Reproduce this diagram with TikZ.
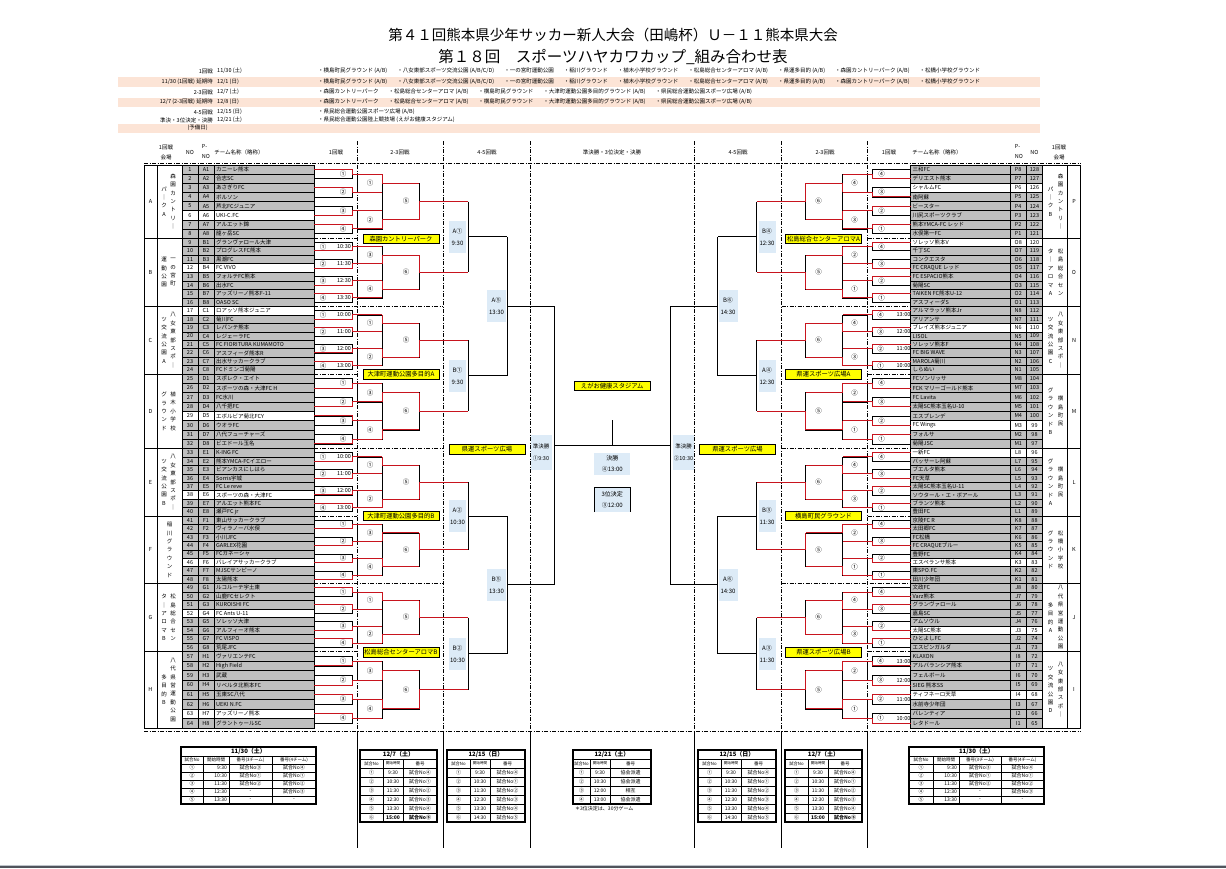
\documentclass[tikz,border=0pt]{standalone}
\usepackage{fontspec}
\setmainfont{Noto Sans CJK JP}
\definecolor{peach}{RGB}{252,228,214}
\definecolor{cgray}{RGB}{191,191,191}
\definecolor{lblue}{RGB}{221,235,247}
\definecolor{wred}{RGB}{200,20,30}
\definecolor{ylw}{RGB}{255,255,0}
\definecolor{barc}{RGB}{80,84,92}
\definecolor{barl}{RGB}{190,196,202}
\newcommand\cnum[1]{\ifcase#1\or ①\or ②\or ③\or ④\or ⑤\or ⑥\fi}
\newcommand\fs[1]{\fontsize{#1}{#1}\selectfont}
\newcommand\vst[1]{\ifx\relax#1\else\hbox to 7pt{\hss#1\hss}\expandafter\vst\fi}
\newcommand\vtxt[1]{\vbox{\baselineskip=8.4pt\lineskiplimit=-20pt\expandafter\vst#1\relax}}
\newcommand\gp{\hspace{10pt}}
\newcommand\bd[1]{\ifcase#1 165\or 238\or 306.5\or 374\or 448.5\or 516\or 583.5\or 651.5\or 728\fi}
\newcommand\grp[1]{%
  \edef\gtop{\bd{#1}}%
  \pgfmathtruncatemacro\gn{#1+1}%
  \edef\gbot{\bd{\gn}}%
  \pgfmathsetmacro\hh{(\gbot-\gtop)/8}%
}
\tikzset{
  txt/.style={inner sep=0pt,font=\fs{5.5}},
  tb/.style={inner sep=0pt,font=\fs{5}},
  hdr/.style={inner sep=0pt,align=center,font=\fontsize{5.5}{10}\selectfont},
  cnl/.style={inner sep=0pt,font=\fs{6.5}},
  cell/.style={draw=black,line width=0.5pt},
  gline/.style={draw=black,line width=0.9pt},
  mbox/.style={draw=black,line width=0.7pt},
  win/.style={draw=wred,line width=0.9pt},
  bline/.style={draw=black,line width=0.8pt},
  sep/.style={draw=black,line width=0.7pt,dash pattern=on 4pt off 1.5pt on 1pt off 1.5pt},
  ylab/.style={fill=ylw,draw=black,line width=0.9pt,inner sep=0.5pt,minimum width=76,minimum height=9.5,font=\fs{6.3}},
  blab/.style={fill=lblue,inner sep=0pt,align=center,font=\fontsize{6}{12}\selectfont},
}
\newcommand\pickw[3]{\ifnum#1=1 \let\yw#3\else\let\yw#2\fi}
\newcommand\brside[2]{%
\foreach \gg/\wA/\wB/\wC/\wD/\sA/\sB/\sC/\tF in {#2}{%
  \grp{\gg}%
  \foreach \mm/\wv in {0/\wA,1/\wB,2/\wC,3/\wD}{%
    \pgfmathsetmacro\ya{\gtop+(2*\mm+0.5)*\hh}%
    \pgfmathsetmacro\yb{\gtop+(2*\mm+1.5)*\hh}%
    \pgfmathsetmacro\ym{\gtop+(2*\mm+1)*\hh}%
    \pickw{\wv}{\ya}{\yb}%
    \ifnum#1=0 \pgfmathtruncatemacro\cnv{\mm+1}\else\pgfmathtruncatemacro\cnv{4-\mm}\fi
    \draw[mbox] (314,\ya) rectangle (352,\yb);
    \draw[win] (314,\yw) -- (352,\yw) -- (352,\ym) -- (357,\ym);
    \ifnum\tF=0
      \node[cnl] (r#1c\gg-\mm) at (343,\ym) {\cnum{\cnv}};
    \else
      \ifnum#1=0 \def\cxv{323}\def\txv{344}\else\def\cxv{344}\def\txv{321}\fi
      \node[cnl] (r#1c\gg-\mm) at (\cxv,\ym) {\cnum{\cnv}};
      \node[txt] (r#1t\gg-\mm) at (\txv,\ym) {\ifcase\tF\or 1\mm:30\or 1\mm:00\or 1\the\numexpr3-\mm\relax:00\fi};
    \fi
  }%
  \pgfmathsetmacro\ya{\gtop+2*\hh}%
  \pgfmathsetmacro\yb{\gtop+6*\hh}%
  \draw[mbox] (382,\ya) rectangle (419,\yb);
  \foreach \pp/\wv in {0/\sA,1/\sB}{%
    \pgfmathsetmacro\ya{\gtop+(4*\pp+1)*\hh}%
    \pgfmathsetmacro\yb{\gtop+(4*\pp+3)*\hh}%
    \pgfmathsetmacro\ym{\gtop+(4*\pp+2)*\hh}%
    \pickw{\wv}{\ya}{\yb}%
    \ifodd\gg \def\oddv{2}\else\def\oddv{0}\fi
    \ifnum#1=0 \pgfmathtruncatemacro\cnv{1+\pp+\oddv}\else\pgfmathtruncatemacro\cnv{4-\pp-\oddv}\fi
    \draw[mbox] (357,\ya) rectangle (382,\yb);
    \draw[win] (357,\ya) -- (382,\ya);
    \draw[win] (357,\yb) -- (382,\yb);
    \draw[win] (382,\yw) -- (382,\ym);
    \node[cnl] (r#1s\gg-\pp) at (370,\ym) {\cnum{\cnv}};
  }%
  \pgfmathsetmacro\ya{\gtop+2*\hh}%
  \pgfmathsetmacro\yb{\gtop+6*\hh}%
  \pgfmathsetmacro\ym{\gtop+4*\hh}%
  \pickw{\sC}{\ya}{\yb}%
  \ifodd\gg \def\oddv{1}\else\def\oddv{0}\fi
  \ifnum#1=0 \pgfmathtruncatemacro\cnv{5+\oddv}\else\pgfmathtruncatemacro\cnv{6-\oddv}\fi
  \draw[win] (382,\ya) -- (419,\ya);
  \draw[win] (382,\yb) -- (419,\yb);
  \draw[win] (419,\yw) -- (419,\ym) -- (468,\ym);
  \node[cnl] (r#1f\gg) at (406,\ym) {\cnum{\cnv}};
}%
\foreach \ya/\yb/\ym in {201.5/272.25/236.875,340.25/411.25/375.75,482.25/549.75/516,617.5/689.75/653.625}{%
  \draw[bline] (468,\ya) -- (468,\yb) (468,\ym) -- (507,\ym);
}%
\draw[bline] (507,236.875) -- (507,375.75) (507,306.31) -- (554,306.31);
\draw[bline] (507,516) -- (507,653.625) (507,584.81) -- (554,584.81);
\draw[bline] (554,306.31) -- (554,584.81) (554,445.56) -- (612.25,445.56);
}
\newcommand\tabsix[8]{%
  \draw[line width=0.4pt] (#2,759) -- (#5,759) (#2,768) -- (#5,768);
  \foreach \kk in {1,...,5}{\draw[line width=0.4pt] (#2,768+9*\kk) -- (#5,768+9*\kk);}
  \draw[line width=0.4pt] (#3,759) -- (#3,822) (#4,759) -- (#4,822);
  \draw[line width=1.1pt] (#2,750) rectangle (#5,822);
  \node[tb,font=\fs{6}\bfseries] (#1h) at ({(#2+#5)/2},754.5) {#6};
  \node[tb,font=\fs{4.3}] (#1ha) at ({(#2+#3)/2},763.5) {試合No};
  \node[tb,font=\fs{3.6}] (#1hb) at ({(#3+#4)/2},763.5) {開始時間};
  \node[tb,font=\fs{4.5}] (#1hc) at ({(#4+#5)/2},763.5) {番号};
  \foreach \kk/\tm/\nb in {1/9:30/4,2/10:30/1,3/11:30/2,4/12:30/3,5/13:30/4,6/#7/5}{%
    \pgfmathsetmacro\yy{763.5+9*\kk}%
    \ifnum\kk=6 \ifnum#8=1 \def\bb{\bfseries}\else\def\bb{}\fi\else\def\bb{}\fi
    \node[tb] (#1a\kk) at ({(#2+#3)/2},\yy) {\cnum{\kk}};
    \node[tb] (#1b\kk) at ({(#3+#4)/2},\yy) {\bb\tm};
    \node[tb] (#1c\kk) at ({(#4+#5)/2},\yy) {\bb 試合No\cnum{\nb}};
  }%
}
\newcommand\tabfive[6]{%
  \draw[line width=0.4pt] (#2,756) -- (#6,756) (#2,764) -- (#6,764);
  \foreach \kk in {1,...,4}{\draw[line width=0.4pt] (#2,764+8*\kk) -- (#6,764+8*\kk);}
  \draw[line width=0.4pt] (#3,756) -- (#3,804) (#4,756) -- (#4,804) (#5,756) -- (#5,804);
  \draw[line width=1.1pt] (#2,747) rectangle (#6,804);
  \node[tb,font=\fs{6}\bfseries] (#1h) at ({(#2+#6)/2},751.5) {11/30（土）};
  \node[tb,font=\fs{4.5}] (#1ha) at ({(#2+#3)/2},760) {試合No};
  \node[tb,font=\fs{4.5}] (#1hb) at ({(#3+#4)/2},760) {開始時間};
  \node[tb,font=\fs{4.5}] (#1hc) at ({(#4+#5)/2},760) {番号(3チーム)};
  \node[tb,font=\fs{4.5}] (#1hd) at ({(#5+#6)/2},760) {番号(4チーム)};
  \foreach \kk/\tm/\nA/\nB in {1/9:30/3/4,2/10:30/1/1,3/11:30/2/2,4/12:30/0/3,5/13:30/0/0}{%
    \pgfmathsetmacro\yy{760+8*\kk}%
    \node[tb] (#1a\kk) at ({(#2+#3)/2},\yy) {\cnum{\kk}};
    \node[tb,anchor=east] (#1b\kk) at (#4-2,\yy) {\tm};
    \node[tb] (#1c\kk) at ({(#4+#5)/2},\yy) {\ifnum\nA=0 -\else 試合No\cnum{\nA}\fi};
    \node[tb] (#1d\kk) at ({(#5+#6)/2},\yy) {\ifnum\nB=0 -\else 試合No\cnum{\nB}\fi};
  }%
}
\newcommand\vA{・横島町民グラウンド (A/B)\gp ・八女東部スポーツ交流公園 (A/B/C/D)\gp ・一の宮町運動公園\gp ・稲川グラウンド\gp ・植木小学校グラウンド\gp ・松島総合センターアロマ (A/B)\gp ・県運多目的 (A/B)\gp ・森園カントリーパーク (A/B)\gp ・松橋小学校グラウンド}
\newcommand\vB{・森園カントリーパーク\gp ・松島総合センターアロマ (A/B)\gp ・横島町民グラウンド\gp ・大津町運動公園多目的グラウンド (A/B)\gp ・県民総合運動公園スポーツ広場 (A/B)}
\begin{document}
\begin{tikzpicture}[x=1pt,y=-1pt]
\useasboundingbox (0,0) rectangle (1226,868);
\fill[white] (0,0) rectangle (1226,868);
\fill[barl] (0,865) rectangle (1226,866);
\fill[barc] (0,866) rectangle (1226,868);
\node[inner sep=0pt,font=\fs{14.5}] (title1) at (613,35) {第４１回熊本県少年サッカー新人大会（田嶋杯）Ｕ－１１熊本県大会};
\node[inner sep=0pt,font=\fs{15.5}] (title2) at (613,57) {第１８回　スポーツハヤカワカップ\_組み合わせ表};
\fill[peach] (118,77) rectangle (1040,87);
\fill[peach] (118,97.5) rectangle (1040,107);
\fill[peach] (118,123.5) rectangle (1040,133);
\node[txt,anchor=east] (sl1) at (213,71) {1回戦};
\node[txt,anchor=west] (sd1) at (217,71) {11/30 (土)};
\node[txt,anchor=west] (sv1) at (318,71) {\vA};
\node[txt,anchor=east] (sl2) at (213,82) {11/30 (1回戦) 延期時};
\node[txt,anchor=west] (sd2) at (217,82) {12/1 (日)};
\node[txt,anchor=west] (sv2) at (318,82) {\vA};
\node[txt,anchor=east] (sl3) at (213,92) {2-3回戦};
\node[txt,anchor=west] (sd3) at (217,92) {12/7 (土)};
\node[txt,anchor=west] (sv3) at (318,92) {\vB};
\node[txt,anchor=east] (sl4) at (213,102) {12/7 (2-3回戦) 延期時};
\node[txt,anchor=west] (sd4) at (217,102) {12/8 (日)};
\node[txt,anchor=west] (sv4) at (318,102) {\vB};
\node[txt,anchor=east] (sl5) at (213,112) {4-5回戦};
\node[txt,anchor=west] (sd5) at (217,112) {12/15 (日)};
\node[txt,anchor=west] (sv5) at (318,112) {・県民総合運動公園スポーツ広場 (A/B)};
\node[txt,anchor=east] (sl6) at (213,120) {準決・3位決定・決勝};
\node[txt,anchor=west] (sd6) at (217,120) {12/21 (土)};
\node[txt,anchor=west] (sv6) at (318,120) {・県民総合運動公園陸上競技場 (えがお健康スタジアム)};
\node[txt,anchor=east] (sl7) at (208,128) {(予備日)};
\node[hdr] (h1) at (166,152) {1回戦\\会場};
\node[hdr] (h2) at (190,152) {NO};
\node[hdr,align=left] (h3) at (206,152) {P-\\NO};
\node[hdr] (h4) at (239,152) {チーム名称（略称）};
\node[hdr] (h5) at (336,152) {1回戦};
\node[hdr] (h6) at (400,152) {2-3回戦};
\node[hdr] (h7) at (487,152) {4-5回戦};
\node[hdr] (h8) at (612,152) {準決勝・3位決定・決勝};
\node[hdr] (h9) at (738,152) {4-5回戦};
\node[hdr] (h10) at (825,152) {2-3回戦};
\node[hdr] (h11) at (889,152) {1回戦};
\node[hdr] (h12) at (937,152) {チーム名称（略称）};
\node[hdr,align=left] (h13) at (1019,152) {P-\\NO};
\node[hdr] (h14) at (1034.5,152) {NO};
\node[hdr] (h15) at (1059,152) {1回戦\\会場};
\draw[sep] (144,163) -- (1081,163);
\draw[sep] (144,731) -- (1081,731);
\foreach \x in {357,443,530,694.5,781.5,867.5}{
  \draw[sep] (\x,141) -- (\x,731);
  \draw[bline] (\x,731) -- (\x,848);
}
\foreach \bY/\eX in {238/357,306.5/443,374/357,448.5/443,516/357,583.5/443,651.5/357}{
  \draw[sep] (314,\bY) -- (\eX,\bY);
  \draw[sep] (1224.5-\eX,\bY) -- (910.5,\bY);
}
\foreach \no/\pn/\nm/\wh [count=\i from 0] in {1/A1/カニーレ熊本/0,2/A2/合志SC/0,3/A3/あさぎりFC/0,4/A4/ボルソン/0,5/A5/芦北FCジュニア/0,6/A6/UKI-C.FC/1,7/A7/アルエット錦/0,8/A8/龍ヶ岳SC/0,
9/B1/グランヴァロール大津/0,10/B2/プログレスFC熊本/0,11/B3/黒潮FC/0,12/B4/FC VIVO/1,13/B5/フォルテFC熊本/0,14/B6/出水FC/0,15/B7/アッズリーノ熊本F-11/0,16/B8/OASO SC/0,
17/C1/ロアッソ熊本ジュニア/1,18/C2/菊川FC/0,19/C3/レパンテ熊本/0,20/C4/レジェーラFC/0,21/C5/FC FIORITURA KUMAMOTO/0,22/C6/アスフィーダ熊本R/0,23/C7/出水サッカークラブ/0,24/C8/FCドミンゴ菊陽/0,
25/D1/スポレク・エイト/0,26/D2/スポーツの森・大津FC H/0,27/D3/FC氷川/0,28/D4/八千把FC/0,29/D5/エボルビア菊北FCY/1,30/D6/ウオラFC/0,31/D7/八代フューチャーズ/0,32/D8/ビエドール玉名/0,
33/E1/K-ING FC/0,34/E2/熊本YMCA-FCイエロー/0,35/E3/ビアンカスにしはら/0,36/E4/Sorris宇城/0,37/E5/FC Le reve/0,38/E6/スポーツの森・大津FC/1,39/E7/アルエット熊本FC/0,40/E8/瀬戸FC jr/0,
41/F1/東山サッカークラブ/0,42/F2/ヴィラノーバ水俣/0,43/F3/小川JFC/0,44/F4/GARLEX花園/0,45/F5/FCガネーシャ/0,46/F6/バレイアサッカークラブ/1,47/F7/MJSCサンピーノ/0,48/F8/太陽熊本/0,
49/G1/ルコルーテ宇土東/0,50/G2/山鹿FCセレクト/0,51/G3/KUROISHI FC/0,52/G4/FC Ants U-11/1,53/G5/ソレッソ大津/0,54/G6/アルフィーオ熊本/0,55/G7/FC VISPO/0,56/G8/荒尾JFC/0,
57/H1/ヴァリエンテFC/0,58/H2/High Field/0,59/H3/武蔵/0,60/H4/リベルタ北熊本FC/0,61/H5/玉東SC八代/0,62/H6/UEKI N.FC/0,63/H7/アッズリーノ熊本/1,64/H8/グラントゥールSC/0}{
  \pgfmathtruncatemacro\gg{int(\i/8)}
  \pgfmathtruncatemacro\kk{\i-8*\gg}
  \grp{\gg}
  \pgfmathsetmacro\ya{\gtop+\kk*\hh}
  \pgfmathsetmacro\yb{\ya+\hh}
  \pgfmathsetmacro\ym{\ya+\hh/2}
  \ifnum\wh=1 \def\fc{white}\else\def\fc{cgray}\fi
  \draw[cell,fill=\fc] (182,\ya) rectangle (198,\yb);
  \draw[cell,fill=\fc] (198,\ya) rectangle (214,\yb);
  \draw[cell,fill=\fc] (214,\ya) rectangle (314,\yb);
  \node[txt] (ln\i) at (190,\ym) {\no};
  \node[txt] (lp\i) at (206,\ym) {\pn};
  \node[txt,anchor=west] (lt\i) at (216,\ym) {\nm};
}
\foreach \no/\pn/\nm/\wh [count=\i from 0] in {128/P8/三和FC/0,127/P7/デリエスト熊本/0,126/P6/シャルムFC/1,125/P5/南阿蘇/0,124/P4/ビースター/0,123/P3/川尻スポーツクラブ/0,122/P2/熊本YMCA-FC レッド/0,121/P1/水俣第一FC/0,
120/O8/ソレッソ熊本V/1,119/O7/千丁SC/0,118/O6/コンクエスタ/0,117/O5/FC CRAQUE レッド/0,116/O4/FC ESPACIO熊本/0,115/O3/菊陽SC/0,114/O2/TAIKEN FC熊本U-12/0,113/O1/アスフィーダS/0,
112/N8/アルマラッソ熊本Jr/0,111/N7/アリアンサ/0,110/N6/ブレイズ熊本ジュニア/1,109/N5/LISOL/0,108/N4/ソレッソ熊本F/0,107/N3/FC BIG WAVE/0,106/N2/MAROLA菊川/0,105/N1/しらぬい/0,
104/M8/FCソンリッサ/0,103/M7/FCK マリーゴールド熊本/0,102/M6/FC Lavita/0,101/M5/太陽SC熊本玉名U-10/0,100/M4/エスプレンデ/0,99/M3/FC Wings/1,98/M2/フォルサ/0,97/M1/菊陽JSC/0,
96/L8/一新FC/1,95/L7/バッサーレ阿蘇/0,94/L6/ブエルタ熊本/0,93/L5/FC天草/0,92/L4/太陽SC熊本玉名U-11/0,91/L3/ソウタール・エ・ボアール/0,90/L2/ブランツ熊本/0,89/L1/豊田FC/0,
88/K8/京陵FC R/0,87/K7/太田郷FC/0,86/K6/FC松橋/0,85/K5/FC CRAQUEブルー/0,84/K4/豊野FC/0,83/K3/エスペランサ熊本/1,82/K2/東SPO.FC/0,81/K1/田川少年団/0,
80/J8/文政FC/0,79/J7/Varz熊本/0,78/J6/グランヴァロール/0,77/J5/嘉島SC/0,76/J4/アムソウル/0,75/J3/太陽SC熊本/1,74/J2/ひとよしFC/0,73/J1/エスピンガルダ/0,
72/I8/KLAXON/0,71/I7/アルバランシア熊本/0,70/I6/フェルボール/0,69/I5/SIEG 熊本SS/0,68/I4/ティフネーロ天草/1,67/I3/水前寺少年団/0,66/I2/バレンティア/0,65/I1/レタドール/0}{
  \pgfmathtruncatemacro\gg{int(\i/8)}
  \pgfmathtruncatemacro\kk{\i-8*\gg}
  \grp{\gg}
  \pgfmathsetmacro\ya{\gtop+\kk*\hh}
  \pgfmathsetmacro\yb{\ya+\hh}
  \pgfmathsetmacro\ym{\ya+\hh/2}
  \ifnum\wh=1 \def\fc{white}\else\def\fc{cgray}\fi
  \draw[cell,fill=\fc] (910.5,\ya) rectangle (1010,\yb);
  \draw[cell,fill=\fc] (1010,\ya) rectangle (1026.5,\yb);
  \draw[cell,fill=\fc] (1026.5,\ya) rectangle (1042.5,\yb);
  \node[txt,anchor=west] (rt\i) at (912.5,\ym) {\nm};
  \node[txt] (rp\i) at (1018.25,\ym) {\pn};
  \node[txt] (rn\i) at (1034.5,\ym) {\no};
}
\foreach \gg in {0,...,7}{
  \grp{\gg}
  \draw[gline] (144,\gtop) rectangle (314,\gbot);
  \draw[cell] (157,\gtop) -- (157,\gbot) (182,\gtop) -- (182,\gbot);
  \draw[gline] (910.5,\gtop) rectangle (1080.5,\gbot);
  \draw[cell] (1067.5,\gtop) -- (1067.5,\gbot) (1042.5,\gtop) -- (1042.5,\gbot);
}
\foreach \gg/\LL/\vca/\vcb in {0/A/森園カントリ｜/パ｜クA,1/B/一の宮町/運動公園,2/C/八女東部スポ｜/ツ交流公園A,3/D/植木小学校/グラウンド,4/E/八女東部スポ｜/ツ交流公園B,6/G/松島総合セン/タ｜アロマB,7/H/八代県営運動公園/多目的B}{
  \grp{\gg}
  \pgfmathsetmacro\ym{(\gtop+\gbot)/2}
  \node[txt] (lg\gg) at (150.5,\ym) {\LL};
  \node[txt] (lva\gg) at (173,\ym) {\vtxt{\vca}};
  \node[txt] (lvb\gg) at (164,\ym) {\vtxt{\vcb}};
}
\node[txt] (lg5) at (150.5,549.75) {F};
\node[txt] (lva5) at (169.5,549.75) {\vtxt{稲川グラウンド}};
\foreach \gg/\LL/\vca/\vcb in {0/P/森園カントリ｜/パ｜クB,1/O/松島総合セン/タ｜アロマA,2/N/八女東部スポ｜/ツ交流公園C,3/M/横島町民/グラウンドB,4/L/横島町民/グラウンドA,5/K/松橋小学校/グラウンド,6/J/八代県営運動公園/多目的A,7/I/八女東部スポ｜/ツ交流公園D}{
  \grp{\gg}
  \pgfmathsetmacro\ym{(\gtop+\gbot)/2}
  \node[txt] (rg\gg) at (1074,\ym) {\LL};
  \node[txt] (rva\gg) at (1060.5,\ym) {\vtxt{\vca}};
  \node[txt] (rvb\gg) at (1050.5,\ym) {\vtxt{\vcb}};
}
\brside{0}{0/0/0/1/0/0/1/1/0,1/1/1/1/0/1/0/0/1,2/1/0/1/0/0/0/1/2,3/1/1/0/1/1/1/0/0,4/1/1/1/0/0/1/1/2,5/1/1/1/1/1/0/0/0,6/0/0/1/0/0/1/0/0,7/1/1/0/0/1/0/1/0}
\begin{scope}[shift={(1224.5,0)},xscale=-1]
\brside{1}{0/1/1/0/0/1/0/0/0,1/0/1/0/0/0/1/1/0,2/0/0/0/0/1/1/0/3,3/1/1/1/0/0/0/1/0,4/0/1/0/0/1/0/1/0,5/1/1/1/1/0/1/0/0,6/1/0/1/0/1/1/1/0,7/1/1/0/1/0/0/0/3}
\end{scope}
\draw[bline] (612.25,445.56) -- (612.25,420);
\node[blab,minimum width=17,minimum height=32] (qa1) at (457.5,236.9) {A①\\9:30};
\node[blab,minimum width=17,minimum height=32] (qb1) at (457.5,375.75) {B①\\9:30};
\node[blab,minimum width=17,minimum height=32] (qa2) at (457.5,516) {A②\\10:30};
\node[blab,minimum width=17,minimum height=32] (qb2) at (457.5,653.6) {B②\\10:30};
\node[blab,minimum width=19,minimum height=32] (qa5) at (496.5,306.3) {A⑤\\13:30};
\node[blab,minimum width=19,minimum height=32] (qb5) at (496.5,584.8) {B⑤\\13:30};
\node[blab,minimum width=17,minimum height=32] (qb4) at (767,236.9) {B④\\12:30};
\node[blab,minimum width=17,minimum height=32] (qa4) at (767,375.75) {A④\\12:30};
\node[blab,minimum width=17,minimum height=32] (qb3) at (767,516) {B③\\11:30};
\node[blab,minimum width=17,minimum height=32] (qa3) at (767,653.6) {A③\\11:30};
\node[blab,minimum width=19,minimum height=32] (qb6) at (728,306.3) {B⑥\\14:30};
\node[blab,minimum width=19,minimum height=32] (qa6) at (728,584.8) {A⑥\\14:30};
\node[blab,minimum width=21,minimum height=35,font=\fontsize{5.5}{12}\selectfont] (sf1) at (541,452) {準決勝\\①9:30};
\node[blab,minimum width=21,minimum height=35,font=\fontsize{5.5}{12}\selectfont] (sf2) at (683.5,452) {準決勝\\②10:30};
\node[blab,minimum width=36,minimum height=22,font=\fontsize{6}{11}\selectfont] (fin) at (612.25,463.5) {決勝\\④13:00};
\fill[lblue] (594.5,487) rectangle (630,512);
\draw[bline] (594.5,512) -- (594.5,487) -- (630,487) -- (630,512);
\node[inner sep=0pt,align=center,font=\fontsize{6}{11}\selectfont] (third) at (612.25,499.5) {3位決定\\③12:00};
\node[ylab] (yv1) at (401,239) {森園カントリーパーク};
\node[ylab] (yv2) at (401,374.5) {大津町運動公園多目的A};
\node[ylab] (yv3) at (401,516) {大津町運動公園多目的B};
\node[ylab] (yv4) at (401,652.5) {松島総合センターアロマB};
\node[ylab] (yv5) at (823.5,239) {松島総合センターアロマA};
\node[ylab] (yv6) at (823.5,374.5) {県運スポーツ広場A};
\node[ylab] (yv7) at (823.5,516) {横島町民グラウンド};
\node[ylab] (yv8) at (823.5,652.5) {県運スポーツ広場B};
\node[ylab] (yv9) at (487,449.5) {県運スポーツ広場};
\node[ylab] (yv10) at (737.5,449.5) {県運スポーツ広場};
\node[ylab] (yv11) at (612.25,386) {えがお健康スタジアム};
\tabfive{tl}{181}{203}{229}{272}{316}
\tabfive{tr}{909}{933}{959}{1001}{1044}
\tabsix{sl}{360}{383}{403}{437}{12/7（土）}{15:00}{1}
\tabsix{ql}{447}{470}{490}{525}{12/15（日）}{14:30}{0}
\tabsix{qr}{698}{721}{741}{776}{12/15（日）}{14:30}{0}
\tabsix{sr}{785}{808}{828}{862}{12/7（土）}{15:00}{1}
\draw[line width=0.4pt] (573,759) -- (651,759) (573,768) -- (651,768);
\foreach \kk in {1,2,3}{\draw[line width=0.4pt] (573,768+9*\kk) -- (651,768+9*\kk);}
\draw[line width=0.4pt] (590,759) -- (590,804) (610,759) -- (610,804);
\draw[line width=1.1pt] (573,750) rectangle (651,804);
\node[tb,font=\fs{6}\bfseries] (fh) at (612,754.5) {12/21（土）};
\node[tb,font=\fs{4.3}] (fha) at (581.5,763.5) {試合No};
\node[tb,font=\fs{3.6}] (fhb) at (600,763.5) {開始時間};
\node[tb,font=\fs{4.5}] (fhc) at (630.5,763.5) {番号};
\foreach \kk/\tm/\nm in {1/9:30/協会派遣,2/10:30/協会派遣,3/12:00/相互,4/13:00/協会派遣}{
  \pgfmathsetmacro\yy{763.5+9*\kk}
  \node[tb] (fa\kk) at (581.5,\yy) {\cnum{\kk}};
  \node[tb] (fb\kk) at (600,\yy) {\tm};
  \node[tb] (fc\kk) at (630.5,\yy) {\nm};
}
\node[tb,anchor=west] (fnote) at (575,809) {＊3位決定は、30分ゲーム};
\end{tikzpicture}
\end{document}
